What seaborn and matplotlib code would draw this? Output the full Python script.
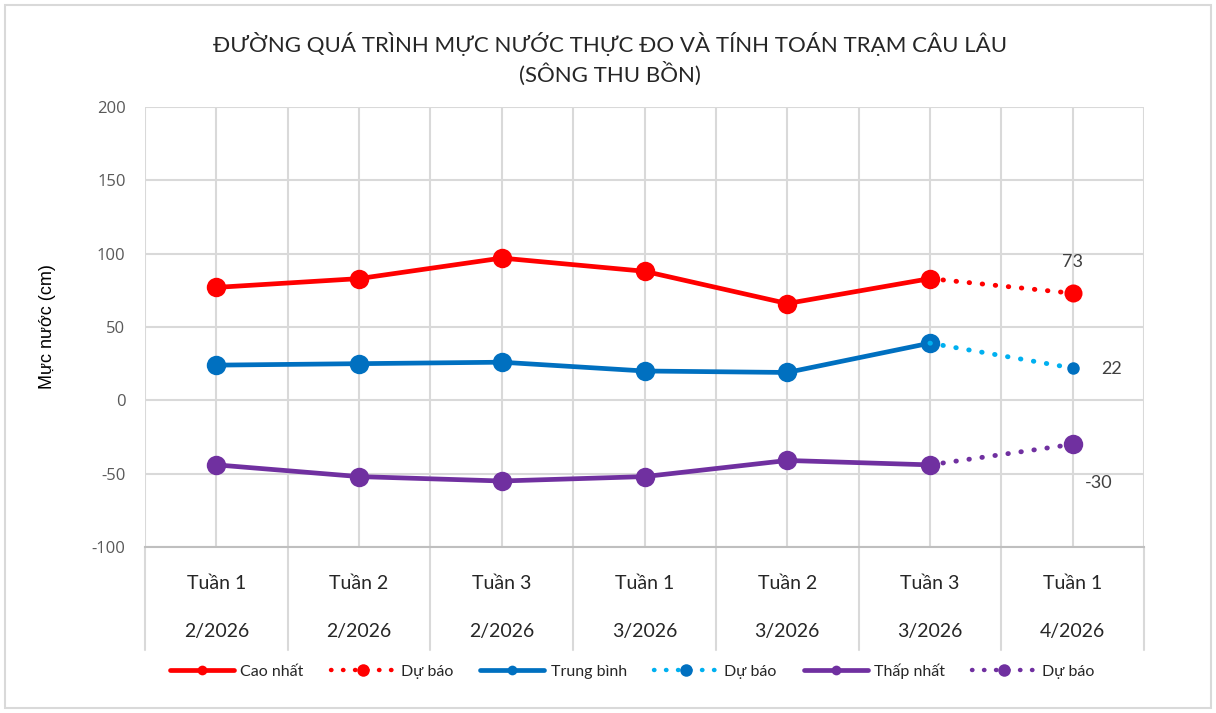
import matplotlib

matplotlib.use("Agg")
import matplotlib.pyplot as plt
import matplotlib.transforms as mtransforms
from matplotlib.lines import Line2D
import numpy as np
import pandas as pd
import seaborn as sns

# data
weeks = ["Tuần 1", "Tuần 2", "Tuần 3", "Tuần 1", "Tuần 2", "Tuần 3", "Tuần 1"]
months = ["2/2026", "2/2026", "2/2026", "3/2026", "3/2026", "3/2026", "4/2026"]
cao_nhat = [77, 83, 97, 88, 66, 83, 73]
trung_binh = [24, 25, 26, 20, 19, 39, 22]
thap_nhat = [-44, -52, -55, -52, -41, -44, -30]
n_obs = 6  # first 6 are observed, last point is the forecast

RED = "#FF0000"
BLUE = "#0070C0"
LIGHT_BLUE = "#00B0F0"
PURPLE = "#7030A0"
GRID = "#D9D9D9"
TEXT = "#404040"

sns.set_theme(style="white")
plt.rcParams["font.family"] = ["Lato", "DejaVu Sans"]
plt.rcParams["axes.unicode_minus"] = False

pos = np.arange(len(weeks))
df = pd.DataFrame({"x": pos, "cao": cao_nhat, "tb": trung_binh, "thap": thap_nhat})
obs = df.iloc[:n_obs]
fc = df.iloc[n_obs - 1:]

fig = plt.figure(figsize=(12.16, 7.13), dpi=100)
ax = fig.add_axes([145 / 1216, 1 - 547 / 713, 999 / 1216, 440 / 713])

dotted = (0, (0.1, 2.6))
series = [
    ("cao", RED, RED, "Cao nhất", 14, 13),
    ("tb", BLUE, LIGHT_BLUE, "Trung bình", 14, 9),
    ("thap", PURPLE, PURPLE, "Thấp nhất", 14, 14),
]
for col, c, cf, name, ms, ms_fc in series:
    sns.lineplot(data=obs, x="x", y=col, ax=ax, color=c, linewidth=3.4,
                 marker="o", markersize=ms, markeredgewidth=0,
                 markeredgecolor=c, label=name, zorder=3)
    # forecast segment: dotted line, marker only on the forecast point
    sns.lineplot(data=fc, x="x", y=col, ax=ax, color=cf, linewidth=3.5,
                 linestyle=dotted, dash_capstyle="round", zorder=3,
                 label="Dự báo")
    last = fc.iloc[-1]
    ax.plot(last["x"], last[col], "o", color=c if col == "tb" else cf,
            markersize=ms_fc, markeredgewidth=0, zorder=4)

# data labels for forecast points
last = df.iloc[-1]
ax.annotate(f"{int(last['cao'])}", (last["x"], last["cao"]), xytext=(0, 17),
            textcoords="offset points", ha="center", va="bottom",
            fontsize=13, color=TEXT)
ax.annotate(f"{int(last['tb'])}", (last["x"], last["tb"]), xytext=(28, -1),
            textcoords="offset points", ha="center", va="center",
            fontsize=13, color=TEXT)
ax.annotate(f"{int(last['thap'])}", (last["x"], last["thap"]), xytext=(19, -28),
            textcoords="offset points", ha="center", va="center",
            fontsize=13, color=TEXT)

ax.set_xlim(-0.5, len(weeks) - 0.5)
ax.set_ylim(-100, 200)
ax.set_yticks(np.arange(-100, 201, 50))
ax.set_xticks(pos)
ax.set_xticks(np.arange(-0.5, len(weeks), 1.0), minor=True)
ax.set_xticklabels([f"{w}\n{m}" for w, m in zip(weeks, months)],
                   linespacing=3.2, fontsize=14, color="#262626")
ax.tick_params(axis="x", which="both", length=0, pad=20)
ax.tick_params(axis="y", length=0, labelsize=12, labelcolor="#595959", pad=14)
for lbl in ax.get_yticklabels():
    lbl.set_family(["Open Sans", "DejaVu Sans"])
ax.grid(True, which="major", color=GRID, linewidth=1.5)
ax.grid(True, which="minor", axis="x", color=GRID, linewidth=1.5)
ax.set_axisbelow(True)
for side in ["top", "right", "left"]:
    ax.spines[side].set_visible(False)
ax.spines["bottom"].set_color("#BFBFBF")
ax.spines["bottom"].set_linewidth(1.5)

# category boxes below the axis
trans = mtransforms.blended_transform_factory(ax.transData, ax.transAxes)
for b in np.arange(-0.5, len(weeks), 1.0):
    ax.plot([b, b], [0, -103 / 440], transform=trans, color=GRID,
            linewidth=1.5, clip_on=False, zorder=1)

ax.set_xlabel("")
ax.set_ylabel("Mực nước (cm)", fontsize=13, color="black",
              family=["Liberation Sans", "DejaVu Sans"], labelpad=26)

fig.suptitle("ĐƯỜNG QUÁ TRÌNH MỰC NƯỚC THỰC ĐO VÀ TÍNH TOÁN TRẠM CÂU LÂU\n(SÔNG THU BỒN)",
             x=0.502, y=1 - 32 / 713, va="top", fontsize=16, color="#262626",
             linespacing=1.3)

# legend: proxy handles with the marker in the middle of the line
handles = []
labels = []
for col, c, cf, name, ms, ms_fc in series:
    handles.append(Line2D([0, 1], [0, 0], color=c, linewidth=3.4, marker="o",
                          markersize=7, markeredgewidth=0))
    labels.append(name)
    handles.append(Line2D([0, 1], [0, 0], color=cf, linewidth=3.2, linestyle=dotted,
                          dash_capstyle="round", marker="o", markersize=9,
                          markerfacecolor=c if col == "tb" else cf,
                          markeredgewidth=0))
    labels.append("Dự báo")
ax.get_legend().remove()
fig.legend(handles, labels, loc="center", bbox_to_anchor=(0.52, 1 - 671 / 713),
           ncol=6, frameon=False, handlelength=4.0,
           columnspacing=1.7, handletextpad=0.4,
           prop={"family": ["Lato", "DejaVu Sans"], "size": 11.5})

# light border around the whole figure
fig.patches.append(plt.Rectangle((5 / 1216, 5 / 713), 1206 / 1216, 703 / 713,
                                 transform=fig.transFigure, fill=False,
                                 edgecolor="#D9D9D9", linewidth=1.5))

fig.savefig("out.png", dpi=100)
